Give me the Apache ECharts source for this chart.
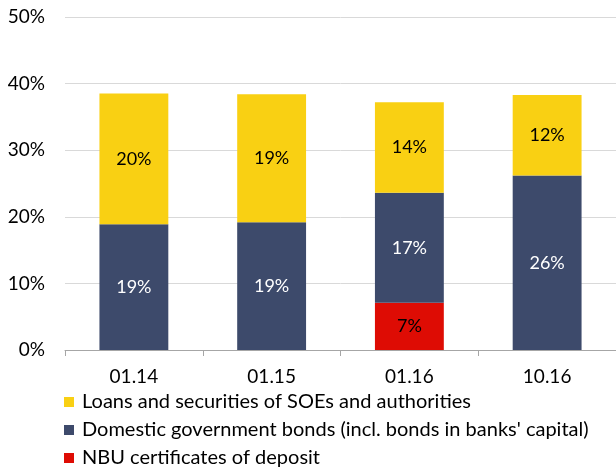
<!DOCTYPE html>
<html><head><meta charset="utf-8">
<script src="https://cdn.jsdelivr.net/npm/echarts@6/dist/echarts.min.js"></script>
<style>html,body{margin:0;padding:0;background:#fff}#c{width:616px;height:470px}</style>
</head><body><div id="c"></div>
<script>
const categories = ['01.14', '01.15', '01.16', '10.16'];
const nbuCertificates = [0, 0, 7.1, 0];
const govBonds = [18.9, 19.2, 16.5, 26.2];
const loansSOE = [19.6, 19.2, 13.6, 12.1];
const yTicks = [0, 10, 20, 30, 40, 50];
const names = ['Loans and securities of SOEs and authorities', "Domestic government bonds (incl. bonds in banks' capital)", 'NBU certificates of deposit'];

const FONT = 'Lato';
const lbl = (color) => ({
  show: true, position: 'inside', color: color, fontFamily: FONT, fontSize: 18,
  formatter: p => p.value > 0 ? Math.round(p.value) + '%' : ''
});
const legendAt = (i, top) => ({
  orient: 'horizontal', left: 59, top: top, itemWidth: 10, itemHeight: 10,
  icon: 'rect', data: [names[i]], selectedMode: false,
  textStyle: {fontFamily: FONT, fontSize: 20, color: '#000', padding: [0, 0, 0, 3]}
});
const chart = echarts.init(document.getElementById('c'), null, {renderer: 'canvas'});
chart.setOption({
  animation: false,
  textStyle: {fontFamily: FONT},
  grid: {left: 65, right: -5, top: 17, bottom: 120, containLabel: false},
  legend: [legendAt(0, 387), legendAt(1, 415), legendAt(2, 443)],
  xAxis: {
    type: 'category', data: categories,
    axisLine: {lineStyle: {color: '#A6A6A6', width: 1}},
    axisTick: {show: true, alignWithLabel: false, length: 6, lineStyle: {color: '#A6A6A6'}},
    axisLabel: {color: '#000', fontSize: 19, fontFamily: FONT, margin: 17}
  },
  yAxis: {
    type: 'value', min: 0, max: 50, interval: 10,
    axisLine: {show: false}, axisTick: {show: false},
    splitLine: {lineStyle: {color: '#D9D9D9', width: 1}},
    axisLabel: {color: '#000', fontSize: 19, fontFamily: FONT, margin: 20,
      formatter: v => yTicks.includes(v) ? v + '%' : ''}
  },
  series: [
    {name: names[2], type: 'bar', stack: 't', data: nbuCertificates, barWidth: '50%',
      itemStyle: {color: '#DE0C04'}, label: lbl('#000')},
    {name: names[1], type: 'bar', stack: 't', data: govBonds, barWidth: '50%',
      itemStyle: {color: '#3D4A6B'}, label: lbl('#fff')},
    {name: names[0], type: 'bar', stack: 't', data: loansSOE, barWidth: '50%',
      itemStyle: {color: '#F9D013'}, label: lbl('#000')}
  ]
});
</script></body></html>
